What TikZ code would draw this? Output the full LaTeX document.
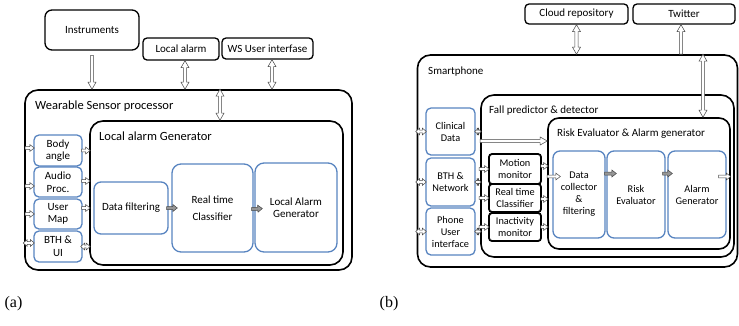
\documentclass[tikz,border=0pt]{standalone}
\usepackage{fontspec}
\setmainfont{Carlito}
\newfontfamily\capfont{Liberation Serif}
\usetikzlibrary{arrows.meta,calc}
\definecolor{boxblue}{RGB}{88,132,192}
\definecolor{pipeline}{RGB}{70,70,70}
\definecolor{pipefill}{RGB}{150,150,150}
\tikzset{
  % hollow block arrow: shaft half width / head half width / head length
  blockone/.style args={#1/#2/#3}{to path={
    (\tikztostart) coordinate (blkS) (\tikztotarget) coordinate (blkT)
    let \p1=(blkS), \p2=(blkT),
        \n1={veclen(\x2-\x1,\y2-\y1)},
        \n2={(\x2-\x1)/\n1}, \n3={(\y2-\y1)/\n1} in
    ({\x1-(\n3)*#1}, {\y1+(\n2)*#1})
    -- ({\x2-(\n2)*#3-(\n3)*#1}, {\y2-(\n3)*#3+(\n2)*#1})
    -- ({\x2-(\n2)*#3-(\n3)*#2}, {\y2-(\n3)*#3+(\n2)*#2})
    -- (\x2,\y2)
    -- ({\x2-(\n2)*#3+(\n3)*#2}, {\y2-(\n3)*#3-(\n2)*#2})
    -- ({\x2-(\n2)*#3+(\n3)*#1}, {\y2-(\n3)*#3-(\n2)*#1})
    -- ({\x1+(\n3)*#1}, {\y1-(\n2)*#1}) -- cycle}},
  blocktwo/.style args={#1/#2/#3}{to path={
    (\tikztostart) coordinate (blkS) (\tikztotarget) coordinate (blkT)
    let \p1=(blkS), \p2=(blkT),
        \n1={veclen(\x2-\x1,\y2-\y1)},
        \n2={(\x2-\x1)/\n1}, \n3={(\y2-\y1)/\n1} in
    ({\x1+(\n2)*#3-(\n3)*#1}, {\y1+(\n3)*#3+(\n2)*#1})
    -- ({\x2-(\n2)*#3-(\n3)*#1}, {\y2-(\n3)*#3+(\n2)*#1})
    -- ({\x2-(\n2)*#3-(\n3)*#2}, {\y2-(\n3)*#3+(\n2)*#2})
    -- (\x2,\y2)
    -- ({\x2-(\n2)*#3+(\n3)*#2}, {\y2-(\n3)*#3-(\n2)*#2})
    -- ({\x2-(\n2)*#3+(\n3)*#1}, {\y2-(\n3)*#3-(\n2)*#1})
    -- ({\x1+(\n2)*#3+(\n3)*#1}, {\y1+(\n3)*#3-(\n2)*#1})
    -- ({\x1+(\n2)*#3+(\n3)*#2}, {\y1+(\n3)*#3-(\n2)*#2})
    -- (\x1,\y1)
    -- ({\x1+(\n2)*#3-(\n3)*#2}, {\y1+(\n3)*#3+(\n2)*#2})
    -- cycle}},
  topbox/.style={draw=black, line width=1.3pt, rounded corners=4pt, inner sep=0pt,
    align=center, font=\fontsize{11}{13}\selectfont},
  panel/.style={draw=black, line width=1.6pt, rounded corners=13pt, inner sep=0pt},
  bigtitle/.style={anchor=base west, inner sep=0pt, font=\fontsize{12.5}{14}\selectfont},
  smalltitle/.style={anchor=base west, inner sep=0pt, font=\fontsize{11}{13}\selectfont},
  bluebox/.style={draw=boxblue, line width=1.3pt, rounded corners=5pt, inner sep=0pt,
    align=center, font=\fontsize{11}{12.5}\selectfont},
  bluesmall/.style={bluebox, font=\fontsize{10.3}{12}\selectfont},
  monitor/.style={draw=black, line width=1.8pt, rounded corners=3pt, inner sep=0pt,
    align=center, font=\fontsize{10.3}{11.8}\selectfont},
  pipe/.style={draw=pipeline, line width=0.5pt, fill=white, line join=miter, blockone=1.6pt/4pt/7pt},
  pipeboth/.style={draw=pipeline, line width=0.5pt, fill=white, line join=miter, blocktwo=1.6pt/4pt/7pt},
  spipe/.style={draw=pipeline, line width=0.5pt, fill=white, line join=miter, blockone=1.4pt/3.4pt/4.5pt},
  spipeboth/.style={draw=pipeline, line width=0.5pt, fill=white, line join=miter, blocktwo=1.4pt/3.4pt/4pt},
  gpipe/.style={draw=pipeline, line width=0.5pt, fill=pipefill, line join=miter, blockone=1.5pt/3.5pt/4.5pt},
  caption/.style={inner sep=0pt, font=\capfont\fontsize{16}{18}\selectfont}
}
\begin{document}
\begin{tikzpicture}[x=1pt,y=-1pt]
\useasboundingbox (0,0) rectangle (739,325);

% ---------- (a) wearable sensor processor ----------
\node[topbox, minimum width=94pt, minimum height=40pt, rounded corners=7pt] (instr) at (92,30) {Instruments};
\node[topbox, minimum width=76pt, minimum height=22pt] (lalarm) at (181,49) {Local alarm};
\node[topbox, minimum width=91pt, minimum height=21pt] (wsui) at (267.5,48.5) {WS User interfase};

\node[panel, minimum width=327pt, minimum height=180pt] (wsp) at (188.5,180) {};
\node[bigtitle] (wsptitle) at (35,109) {Wearable Sensor processor};
\node[panel, minimum width=253pt, minimum height=144pt] (lag) at (216.5,193) {};
\node[bigtitle] (lagtitle) at (99,140) {Local alarm Generator};

\node[bluebox, minimum width=48pt, minimum height=31pt] (body) at (58,150.5) {Body\\angle};
\node[bluebox, minimum width=48pt, minimum height=30pt] (audio) at (58,182) {Audio\\Proc.};
\node[bluebox, minimum width=48pt, minimum height=30pt] (umap) at (58,214) {User\\Map};
\node[bluebox, minimum width=48pt, minimum height=31pt] (bthui) at (58,246.5) {BTH \&\\UI};

\node[bluebox, minimum width=74pt, minimum height=52pt, rounded corners=7pt] (dfilt) at (131,208) {Data filtering};
\node[bluebox, minimum width=81pt, minimum height=88pt, rounded corners=9pt] (rtc) at (212.5,208) {Real time\\[5pt]Classifier};
\node[bluebox, minimum width=82pt, minimum height=89pt, rounded corners=9pt] (lalgen) at (296,207.5) {Local Alarm\\Generator};

% external links
\draw[pipe] ($(instr.south)+(0,5)$) to (instr.south |- wsp.north);
\draw[pipeboth] ($(lalarm.south)+(4,0)$) to ($(lalarm.south |- wsp.north)+(4,0)$);
\draw[pipeboth] ($(wsui.south)+(4.5,0)$) to ($(wsui.south |- wsp.north)+(4.5,0)$);
\draw[pipeboth] ($(lag.north |- wsp.north)+(3.5,0)$) to ($(lag.north)+(3.5,0)$);

% sensor inputs
\draw[spipe] ($(wsp.west |- body.west)+(1,-2.5)$) to ($(body.west)+(1,-2.5)$);
\draw[spipe] ($(wsp.west |- audio.west)+(1,4)$) to ($(audio.west)+(1,4)$);
\draw[spipe] ($(wsp.west |- umap.west)+(1,0)$) to ($(umap.west)+(1,0)$);
\draw[spipeboth] ($(wsp.west |- bthui.west)+(-1,-3.5)$) to ($(bthui.west)+(1,-3.5)$);

\draw[spipe] ($(body.east)+(-1,0)$) to ($(body.east -| lag.west)+(1,0)$);
\draw[spipe] ($(audio.east)+(-1,-1)$) to ($(audio.east -| lag.west)+(1,-1)$);
\draw[spipe] ($(umap.east)+(-1,-6)$) to ($(umap.east -| lag.west)+(1,-6)$);
\draw[spipeboth] ($(bthui.east)+(-2,0)$) to ($(bthui.east -| lag.west)+(1,0)$);

% processing chain
\draw[gpipe] ($(dfilt.east)+(-2,0)$) to ($(rtc.west)+(6,0)$);
\draw[gpipe] ($(rtc.east)+(-2,1)$) to ($(lalgen.west)+(8,1)$);

% ---------- (b) smartphone ----------
\node[topbox, minimum width=103pt, minimum height=20pt] (cloud) at (576.5,14) {Cloud repository};
\node[topbox, minimum width=102pt, minimum height=20pt] (twitter) at (684,14) {Twitter};

\node[panel, minimum width=320pt, minimum height=212pt] (smart) at (577.5,161) {};
\node[smalltitle] (smarttitle) at (428,74) {Smartphone};
\node[panel, minimum width=253pt, minimum height=162pt] (fpd) at (607.5,176) {};
\node[smalltitle] (fpdtitle) at (489,113) {Fall predictor \& detector};
\node[panel, minimum width=182pt, minimum height=131pt, rounded corners=11pt] (reag) at (639,183.5) {};
\node[smalltitle] (reagtitle) at (557,136) {Risk Evaluator \& Alarm generator};

\node[bluesmall, minimum width=49pt, minimum height=47pt] (clin) at (450.5,131.5) {Clinical\\Data};
\node[bluesmall, minimum width=49pt, minimum height=48pt] (bthn) at (450.5,182) {BTH \&\\Network};
\node[bluesmall, minimum width=49pt, minimum height=47pt] (pui) at (450.5,231.5) {Phone\\User\\interface};

\node[monitor, minimum width=52pt, minimum height=30pt] (motion) at (515,169) {Motion\\monitor};
\node[monitor, minimum width=52pt, minimum height=28pt] (rtcb) at (515,198) {Real time\\Classifier};
\node[monitor, minimum width=52pt, minimum height=28pt] (inact) at (515,227) {Inactivity\\monitor};

\node[bluesmall, minimum width=52pt, minimum height=87pt, rounded corners=7pt] (dcol) at (579,194.5) {Data\\collector\\\&\\filtering};
\node[bluesmall, minimum width=58pt, minimum height=87pt, rounded corners=7pt] (reval) at (636,194.5) {Risk\\Evaluator};
\node[bluesmall, minimum width=58pt, minimum height=87pt, rounded corners=7pt] (agen) at (697,194.5) {Alarm\\Generator};

% external links
\draw[pipeboth] (cloud.south) to (cloud.south |- smart.north);
\draw[pipe] ($(twitter.south |- smart.north)+(-3,0)$) to ($(twitter.south)+(-3,0)$);
\draw[pipeboth] ($(reag.north |- smart.north)+(64,0)$) to ($(reag.north)+(64,0)$);

% interfaces
\foreach \b in {clin,bthn,pui}{
  \draw[spipeboth] ($(smart.west |- \b.west)+(-1,0)$) to ($(\b.west)+(1,0)$);
  \draw[spipeboth] ($(\b.east)+(-1,0)$) to ($(\b.east -| fpd.west)+(1,0)$);
}
\draw[pipe] ($(fpd.west |- clin.east)+(0,9.5)$) to ($(reag.west |- clin.east)+(0,9.5)$);

% monitors
\draw[spipe] ($(fpd.west |- motion.west)+(-1,0)$) to ($(motion.west)+(1,0)$);
\draw[spipe] ($(fpd.west |- rtcb.west)+(-1,0)$) to ($(rtcb.west)+(1,0)$);
\draw[spipe] ($(fpd.west |- inact.west)+(-1,0)$) to ($(inact.west)+(1,0)$);
\draw[spipe] ($(motion.east)+(-1,-3)$) to ($(motion.east -| reag.west)+(1,-3)$);
\draw[spipe] ($(rtcb.east)+(-1,1)$) to ($(rtcb.east -| reag.west)+(1,1)$);
\draw[spipe] ($(inact.east)+(-1,0)$) to ($(inact.east -| reag.west)+(1,0)$);
\draw[spipe] ($(reag.west |- dcol.west)+(0,-18)$) to ($(dcol.west)+(8,-18)$);

% risk chain
\draw[gpipe] ($(dcol.east)+(-1,-21)$) to ($(reval.west)+(10,-21)$);
\draw[gpipe] ($(reval.east)+(-3,-21)$) to ($(agen.west)+(5,-21)$);
\draw[spipe] ($(agen.east)+(-8,-18)$) to ($(agen.east -| reag.east)+(0,-18)$);

% captions
\node[caption] (capa) at (13.5,304) {(a)};
\node[caption] (capb) at (389,304) {(b)};
\end{tikzpicture}
\end{document}
